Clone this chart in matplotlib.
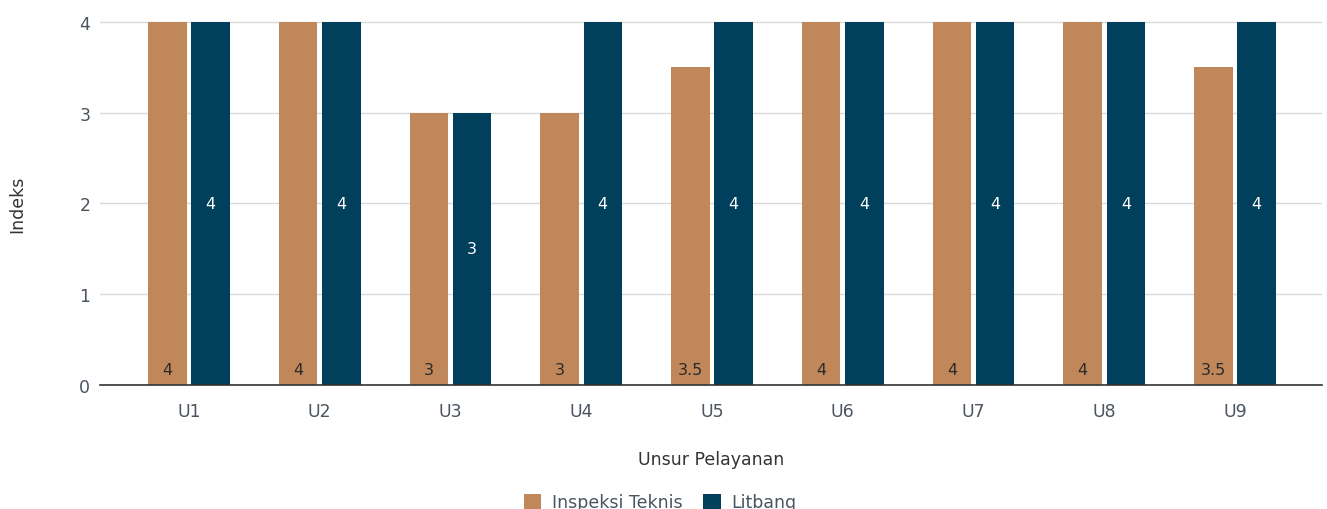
import matplotlib
matplotlib.use("Agg")
import matplotlib.pyplot as plt
import numpy as np

categories = ["U1", "U2", "U3", "U4", "U5", "U6", "U7", "U8", "U9"]
inspeksi = [4, 4, 3, 3, 3.5, 4, 4, 4, 3.5]
litbang = [4, 4, 3, 4, 4, 4, 4, 4, 4]
series_names = ["Inspeksi Teknis", "Litbang"]
yticks = [0, 1, 2, 3, 4]

c_insp = "#C0875A"
c_lit = "#00405C"

plt.rcParams['font.family'] = ['DejaVu Sans']
fig = plt.figure(figsize=(13.27, 5.10), dpi=100)
ax = fig.add_axes([100/1327, 1-386/510, 1222/1327, 364/510])

x = np.arange(len(categories))
w = 0.295
off = 0.165
b1 = ax.bar(x - off, inspeksi, w, color=c_insp, label=series_names[0], zorder=3)
b2 = ax.bar(x + off, litbang, w, color=c_lit, label=series_names[1], zorder=3)

def fmt(v):
    return f"{v:g}"

for xi, v in zip(x, inspeksi):
    ax.text(xi - off, 0.09, fmt(v), ha="center", va="bottom", fontsize=11.5, color="#2a2a2a", zorder=4)
for xi, v in zip(x, litbang):
    ax.text(xi + off, v / 2, fmt(v), ha="center", va="center", fontsize=11.5, color="white", zorder=4)

ax.set_xlim(-0.68, len(categories) - 1 + 0.665)
ax.set_ylim(0, 4.01)
ax.set_yticks(yticks)
ax.set_xticks(x)
ax.set_xticklabels(categories)
ax.tick_params(axis="both", length=0, labelsize=12.5, labelcolor="#4a5560")
ax.tick_params(axis="x", pad=12)
ax.tick_params(axis="y", pad=7)
ax.yaxis.grid(True, color="#d9d9d9", linewidth=1, zorder=0)
ax.set_axisbelow(True)
for s in ["top", "right", "left"]:
    ax.spines[s].set_visible(False)
ax.spines["bottom"].set_color("#333333")
ax.spines["bottom"].set_linewidth(1.2)
ax.spines["bottom"].set_zorder(5)

ax.set_ylabel("Indeks", fontsize=12.5, color="#333333", labelpad=38)
ax.set_xlabel("Unsur Pelayanan", fontsize=12.5, color="#333333", labelpad=22)

fig.legend(handles=[b1, b2], labels=series_names, loc="lower center",
           bbox_to_anchor=(660/1327, -0.035), ncol=2, frameon=False,
           fontsize=12.5, handlelength=1.0, handleheight=1.0, columnspacing=1.2,
           handletextpad=0.6, labelcolor="#4a5560")

fig.savefig("out.png", dpi=100)
